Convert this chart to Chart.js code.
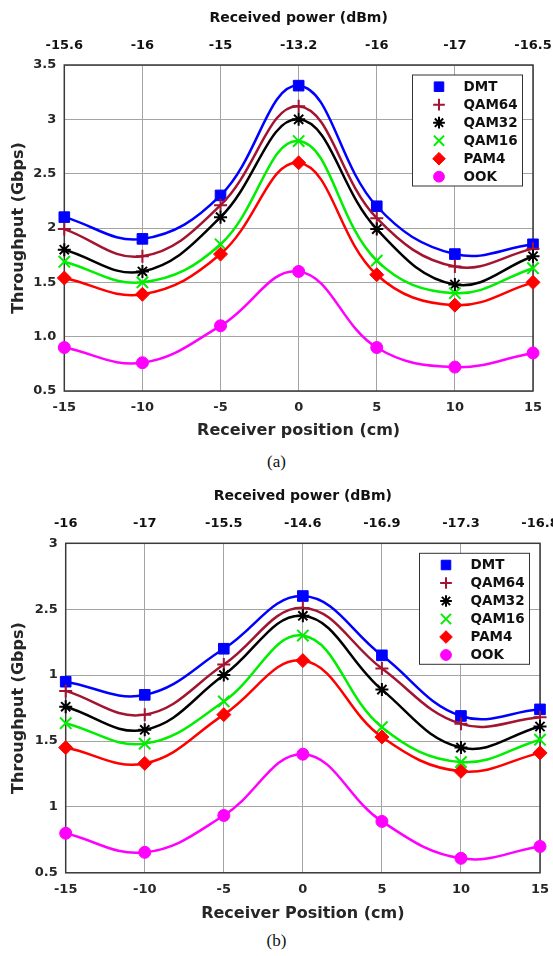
<!DOCTYPE html>
<html>
<head>
<meta charset="utf-8">
<script src="https://cdn.jsdelivr.net/npm/chart.js@4/dist/chart.umd.min.js"></script>
<style>
  html, body { margin: 0; padding: 0; background: #fff; }
  body { width: 553px; height: 956px; position: relative; overflow: hidden; }
  .box { position: absolute; left: 0; width: 553px; }
  .cap { position: absolute; left: 0; width: 553px; text-align: center;
         font-family: "Liberation Serif", "DejaVu Serif", serif; font-size: 17px; color: #111; }
</style>
</head>
<body>
<div class="box" style="top:0;height:440px"><canvas id="chartA"></canvas></div>
<div class="cap" style="top:452px">(a)</div>
<div class="box" style="top:478px;height:445px"><canvas id="chartB"></canvas></div>
<div class="cap" style="top:931px">(b)</div>
<script>
// Receiver positions (cm) shared by both panels
const positions = [-15, -10, -5, 0, 5, 10, 15];

// Received power (dBm) shown on the top axis of each panel
const powerA = ['-15.6', '-16', '-15', '-13.2', '-16', '-17', '-16.5'];
const powerB = ['-16', '-17', '-15.5', '-14.6', '-16.9', '-17.3', '-16.8'];

// Throughput axis tick labels
const yTicksA = ['0.5', '1.0', '1.5', '2', '2.5', '3', '3.5'];
const yTicksB = ['0.5', '1', '1.5', '1', '2.5', '3'];

const seriesNames = ['DMT', 'QAM64', 'QAM32', 'QAM16', 'PAM4', 'OOK'];

// Panel (a) throughput (Gbps)
const dmtA   = [2.10, 1.90, 2.30, 3.31, 2.20, 1.76, 1.85];
const qam64A = [1.99, 1.74, 2.21, 3.12, 2.09, 1.645, 1.81];
const qam32A = [1.80, 1.60, 2.10, 3.00, 1.99, 1.48, 1.74];
const qam16A = [1.69, 1.50, 1.85, 2.80, 1.70, 1.40, 1.63];
const pam4A  = [1.54, 1.39, 1.76, 2.60, 1.57, 1.29, 1.50];
const ookA   = [0.90, 0.76, 1.10, 1.60, 0.90, 0.72, 0.85];

// Panel (b) throughput (Gbps)
const dmtB   = [1.95, 1.85, 2.20, 2.60, 2.15, 1.69, 1.74];
const qam64B = [1.88, 1.70, 2.08, 2.51, 2.05, 1.63, 1.68];
const qam32B = [1.76, 1.585, 2.00, 2.45, 1.89, 1.45, 1.61];
const qam16B = [1.635, 1.48, 1.80, 2.30, 1.605, 1.34, 1.51];
const pam4B  = [1.45, 1.33, 1.70, 2.11, 1.53, 1.27, 1.41];
const ookB   = [0.80, 0.655, 0.935, 1.40, 0.89, 0.61, 0.70];

// Marker / line styling per modulation format
const styles = [
  { color: '#0000ff', pointStyle: 'rect',     radius: 7.5, bw: 1 },
  { color: '#a2142f', pointStyle: 'cross',    radius: 6.5, bw: 2 },
  { color: '#000000', pointStyle: 'star',     radius: 6.5, bw: 2 },
  { color: '#00ee00', pointStyle: 'crossRot', radius: 8,   bw: 2 },
  { color: '#ff0000', pointStyle: 'rectRot',  radius: 7,   bw: 1 },
  { color: '#ff00ff', pointStyle: 'circle',   radius: 6,   bw: 1 }
];

const FONT = 'DejaVu Sans';
const TICK_COLOR = '#262626';
const GRID_COLOR = '#a4a4a4';

function buildDatasets(seriesList) {
  return seriesList.map((vals, i) => {
    const s = styles[i];
    return {
      label: seriesNames[i],
      data: positions.map((x, k) => ({ x: x, y: vals[k] })),
      borderColor: s.color,
      backgroundColor: s.color,
      borderWidth: 2.5,
      tension: 0.4,
      pointStyle: s.pointStyle,
      pointRadius: s.radius,
      pointBackgroundColor: s.color,
      pointBorderColor: s.color,
      pointBorderWidth: s.bw,
      clip: false
    };
  }).reverse();
}

// Frame around the plotting area
const framePlugin = {
  id: 'frame',
  beforeDatasetsDraw(chart) {
    const { ctx, chartArea: a } = chart;
    ctx.save();
    ctx.strokeStyle = '#3a3a3a';
    ctx.lineWidth = 1.5;
    ctx.strokeRect(a.left, a.top, a.right - a.left, a.bottom - a.top);
    ctx.restore();
  }
};

// Boxed legend in the upper-right corner of the plot
const boxLegendPlugin = {
  id: 'boxLegend',
  afterDraw(chart) {
    const { ctx, chartArea: a } = chart;
    const w = 110, h = 111;
    const x0 = a.right - 120.5, y0 = a.top + 10;
    ctx.save();
    ctx.fillStyle = '#ffffff';
    ctx.fillRect(x0, y0, w, h);
    ctx.strokeStyle = '#333333';
    ctx.lineWidth = 1;
    ctx.strokeRect(x0, y0, w, h);
    ctx.font = 'bold 13.5px "' + FONT + '"';
    ctx.textBaseline = 'middle';
    ctx.textAlign = 'left';
    seriesNames.forEach((name, i) => {
      const s = styles[i];
      const y = y0 + 11.7 + 18 * i;
      ctx.fillStyle = s.color;
      ctx.strokeStyle = s.color;
      ctx.lineWidth = s.bw;
      Chart.helpers.drawPoint(ctx, {
        pointStyle: s.pointStyle,
        radius: s.radius * 0.9,
        rotation: 0,
        borderWidth: s.bw
      }, x0 + 26.5, y);
      ctx.fillStyle = '#111111';
      ctx.fillText(name, x0 + 51, y + 0.5);
    });
    ctx.restore();
  }
};

function makeChart(id, cfg) {
  const tickFont = { family: FONT, size: 13, weight: 'bold' };
  return new Chart(document.getElementById(id), {
    type: 'line',
    data: { datasets: buildDatasets(cfg.series) },
    options: {
      responsive: true,
      maintainAspectRatio: false,
      animation: false,
      devicePixelRatio: 1,
      layout: { padding: { left: 0, top: 0, right: cfg.rightPad, bottom: 0 } },
      plugins: { legend: { display: false }, tooltip: { enabled: false } },
      scales: {
        x: {
          type: 'linear', position: 'bottom', min: -15, max: 15,
          ticks: { stepSize: 5, padding: 9, maxRotation: 0, autoSkip: false,
                   font: tickFont, color: TICK_COLOR },
          grid: { color: GRID_COLOR, lineWidth: 1, drawTicks: false },
          border: { display: false },
          title: { display: true, text: cfg.xTitle, color: TICK_COLOR,
                   font: { family: FONT, size: 16, weight: 'bold' },
                   padding: { top: 0, bottom: 0 } },
          afterFit(s) { s.height = cfg.bottomH; s.paddingLeft = 0; s.paddingRight = 0; }
        },
        x2: {
          type: 'linear', position: 'top', min: -15, max: 15,
          ticks: { stepSize: 5, padding: 12, maxRotation: 0, autoSkip: false,
                   font: tickFont, color: '#111',
                   callback: (v, i) => cfg.power[i] },
          grid: { display: false, drawTicks: false },
          border: { display: false },
          title: { display: true, text: 'Received power (dBm)', color: '#111',
                   font: { family: FONT, size: 14, weight: 'bold' },
                   padding: { top: 10, bottom: 0 } },
          afterFit(s) { s.height = cfg.topH; s.paddingLeft = 0; s.paddingRight = 0; }
        },
        y: {
          min: cfg.yMin, max: cfg.yMax,
          ticks: { stepSize: 0.5, padding: 8, font: tickFont, color: TICK_COLOR,
                   callback: (v, i) => cfg.yTicks[i] },
          grid: { color: GRID_COLOR, lineWidth: 1, drawTicks: false },
          border: { display: false },
          title: { display: true, text: 'Throughput (Gbps)', color: TICK_COLOR,
                   font: { family: FONT, size: 16, weight: 'bold' },
                   padding: { top: 9, bottom: 0 } },
          afterFit(s) { s.width = cfg.leftW; s.paddingTop = 0; s.paddingBottom = 0; }
        }
      }
    },
    plugins: [framePlugin, boxLegendPlugin]
  });
}

makeChart('chartA', {
  series: [dmtA, qam64A, qam32A, qam16A, pam4A, ookA],
  power: powerA, yTicks: yTicksA, yMin: 0.5, yMax: 3.5,
  xTitle: 'Receiver position (cm)',
  leftW: 64.3, topH: 65, bottomH: 49, rightPad: 20
});

makeChart('chartB', {
  series: [dmtB, qam64B, qam32B, qam16B, pam4B, ookB],
  power: powerB, yTicks: yTicksB, yMin: 0.5, yMax: 3,
  xTitle: 'Receiver Position (cm)',
  leftW: 65.7, topH: 65.3, bottomH: 50.2, rightPad: 13
});
</script>
</body>
</html>
